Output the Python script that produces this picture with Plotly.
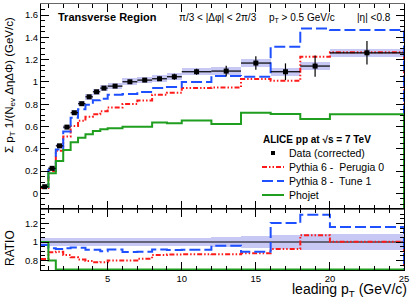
import numpy as np
import plotly.graph_objects as go

# ---------------- data ----------------
bin_edges = [0.5, 1, 1.5, 2, 2.5, 3, 3.5, 4, 4.5, 5, 6, 7, 8, 9, 10, 12, 14, 16, 18, 20, 25]
data_vals = [0.06, 0.225, 0.427, 0.595, 0.724, 0.805, 0.867, 0.912, 0.945, 0.963,
             1.002, 1.017, 1.029, 1.047, 1.092, 1.098, 1.17, 1.092, 1.143, 1.262]
data_stat = [0.004, 0.005, 0.006, 0.007, 0.008, 0.008, 0.009, 0.01, 0.01, 0.012,
             0.015, 0.018, 0.02, 0.027, 0.027, 0.048, 0.06, 0.075, 0.095, 0.105]
data_sys = [0.004, 0.008, 0.013, 0.018, 0.022, 0.024, 0.026, 0.027, 0.028, 0.029,
            0.03, 0.03, 0.031, 0.031, 0.033, 0.035, 0.037, 0.036, 0.037, 0.038]
ratio_sys = [0.04, 0.04, 0.04, 0.04, 0.04, 0.04, 0.04, 0.04, 0.04, 0.04,
             0.04, 0.04, 0.04, 0.04, 0.04, 0.05, 0.065, 0.08, 0.085, 0.09]
pythia6 = [0.049, 0.2, 0.382, 0.511, 0.604, 0.652, 0.689, 0.711, 0.737, 0.77,
           0.802, 0.834, 0.885, 0.904, 0.946, 0.951, 1.026, 1.01, 1.226, 1.266]
pythia8 = [0.058, 0.21, 0.395, 0.555, 0.68, 0.755, 0.795, 0.835, 0.85, 0.885,
           0.893, 0.91, 0.945, 0.955, 1.0, 1.054, 1.047, 1.316, 1.48, 1.466]
phojet = [0.06, 0.18, 0.29, 0.39, 0.46, 0.50, 0.53, 0.56, 0.575, 0.585,
          0.598, 0.598, 0.637, 0.63, 0.655, 0.622, 0.724, 0.712, 0.667, 0.71]

series_names = ["Data (corrected)", "Pythia 6 -  Perugia 0", "Pythia 8 -  Tune 1", "Phojet"]

# ---------------- styles ----------------
FONT = "Liberation Sans"
RED = "#ff1a1a"
BLUE = "#1f50ff"
GREEN = "#1f9e1f"
BAND = "#c8c8f4"
DASH6 = "5px,2px,1.5px,2px,1.5px,2px"
DASH8 = "11px,4px"

main_rng = [-0.14, 1.70]
ratio_rng = [0.697, 1.357]

edges = np.array(bin_edges)
centers = (edges[:-1] + edges[1:]) / 2
widths = edges[1:] - edges[:-1]
dv = np.array(data_vals)

fig = go.Figure()


def step_xy(vals, drop):
    v = np.asarray(vals, dtype=float)
    x = np.concatenate([edges, [edges[-1]]])
    y = np.concatenate([v, [v[-1]], [drop]])
    return x, y


# main band
sys = np.array(data_sys)
fig.add_trace(go.Bar(x=centers, y=2 * sys, base=dv - sys, width=widths,
                     marker=dict(color=BAND, line=dict(width=0)),
                     xaxis="x", yaxis="y", showlegend=False, hoverinfo="skip"))
# ratio band
rs = np.array(ratio_sys)
fig.add_trace(go.Bar(x=centers, y=2 * rs, base=1 - rs, width=widths,
                     marker=dict(color=BAND, line=dict(width=0)),
                     xaxis="x2", yaxis="y2", showlegend=False, hoverinfo="skip"))
# ratio line at 1
fig.add_trace(go.Scatter(x=edges[[0, -1]], y=np.ones(2), mode="lines",
                         line=dict(color="black", width=1.2),
                         xaxis="x2", yaxis="y2", showlegend=False))

models = [(pythia6, RED, DASH6), (pythia8, BLUE, DASH8), (phojet, GREEN, "solid")]
for vals, col, dash in models:
    x, y = step_xy(vals, main_rng[0] - 1)
    fig.add_trace(go.Scatter(x=x, y=y, mode="lines", line_shape="hv",
                             line=dict(color=col, width=2, dash=dash),
                             xaxis="x", yaxis="y", showlegend=False))
    r = np.maximum(np.array(vals) / dv, ratio_rng[0] + 0.006)
    x2, y2 = step_xy(r, ratio_rng[0] - 1)
    fig.add_trace(go.Scatter(x=x2, y=y2, mode="lines", line_shape="hv",
                             line=dict(color=col, width=2, dash=dash),
                             xaxis="x2", yaxis="y2", showlegend=False))

# data points
fig.add_trace(go.Scatter(x=centers, y=dv, mode="markers",
                         marker=dict(symbol="square", size=5, color="black"),
                         error_y=dict(type="data", array=data_stat, color="black", thickness=1.2, width=0),
                         error_x=dict(type="data", array=widths / 2, color="black", thickness=1.2, width=0),
                         xaxis="x", yaxis="y", showlegend=False))

# ---------------- layout ----------------
L, R, T, B = 41, 10, 4, 30
W, H = 414, 300
pw, ph = W - L - R, H - T - B
split = (270 - 209) / ph


def px(xp):
    return (xp - L) / pw


def py(yp):
    return (H - B - yp) / ph


tickfont = dict(family=FONT, size=9.5, color="black")
common_x = dict(range=[0.5, 25], tick0=0, dtick=5, ticks="inside", ticklen=8, tickcolor="black",
                minor=dict(dtick=1, ticks="inside", ticklen=4, tickcolor="black"),
                showline=True, linecolor="black", linewidth=1, mirror="ticks",
                showgrid=False, zeroline=False, tickfont=tickfont)
common_y = dict(tick0=0, dtick=0.2, ticks="inside", ticklen=8, tickcolor="black",
                minor=dict(dtick=0.05, ticks="inside", ticklen=4, tickcolor="black"),
                showline=True, linecolor="black", linewidth=1, mirror="ticks",
                showgrid=False, zeroline=False, tickfont=tickfont)

fig.update_layout(
    width=W, height=H, margin=dict(l=L, r=R, t=T, b=B),
    paper_bgcolor="white", plot_bgcolor="white",
    barmode="overlay", bargap=0, showlegend=False,
    font=dict(family=FONT, size=10, color="black"),
    xaxis=dict(common_x, domain=[0, 1], anchor="y", showticklabels=False, linecolor="#666666"),
    yaxis=dict(common_y, domain=[split, 1], anchor="x", range=main_rng),
    xaxis2=dict(common_x, domain=[0, 1], anchor="y2", matches="x"),
    yaxis2=dict(common_y, domain=[0, split], anchor="x2", range=ratio_rng),
)

ann = []


def add_text(text, xp, yp, size=10, anchor="left", angle=0, bold=False):
    ann.append(dict(text=f"<b>{text}</b>" if bold else text, x=px(xp), y=py(yp),
                    xref="paper", yref="paper", xanchor=anchor, yanchor="middle",
                    align=anchor if anchor != "center" else "center",
                    showarrow=False, textangle=angle, borderpad=0,
                    font=dict(family=FONT, size=size, color="black")))


add_text("Transverse Region", 57, 17, size=11, bold=True)
add_text("π/3 < |Δφ| < 2π/3", 178, 17, size=10)
add_text("p<sub>T</sub> > 0.5 GeV/c", 268, 18, size=10)
add_text("|η| <0.8", 356, 17, size=10)
add_text("ALICE pp at √s = 7 TeV", 262, 139, size=10, bold=True)

leg_y = [153, 167, 181, 195]
for name, yy in zip(series_names, leg_y):
    add_text(name, 288, yy, size=10.5)

add_text("Σ p<sub>T</sub> 1/(N<sub>ev</sub> ΔηΔΦ) (GeV/c)", 10, 85, size=11.5, anchor="center", angle=-90)
add_text("RATIO", 10, 248, size=12, anchor="center", angle=-90)
add_text("leading p<sub>T</sub> (GeV/c)", 408, 290, size=14, anchor="right")

shapes = []
# legend samples
shapes.append(dict(type="rect", xref="paper", yref="paper",
                   x0=px(271), x1=px(275), y0=py(155), y1=py(151),
                   fillcolor="black", line=dict(width=0)))
for (vals, col, dash), yy in zip(models, leg_y[1:]):
    shapes.append(dict(type="line", xref="paper", yref="paper",
                       x0=px(262), x1=px(284), y0=py(yy), y1=py(yy),
                       line=dict(color=col, width=2, dash=dash)))

fig.update_layout(annotations=ann, shapes=shapes)
fig.write_html("out.html", config={"displayModeBar": False},
               post_script="document.body.style.margin='0';")
